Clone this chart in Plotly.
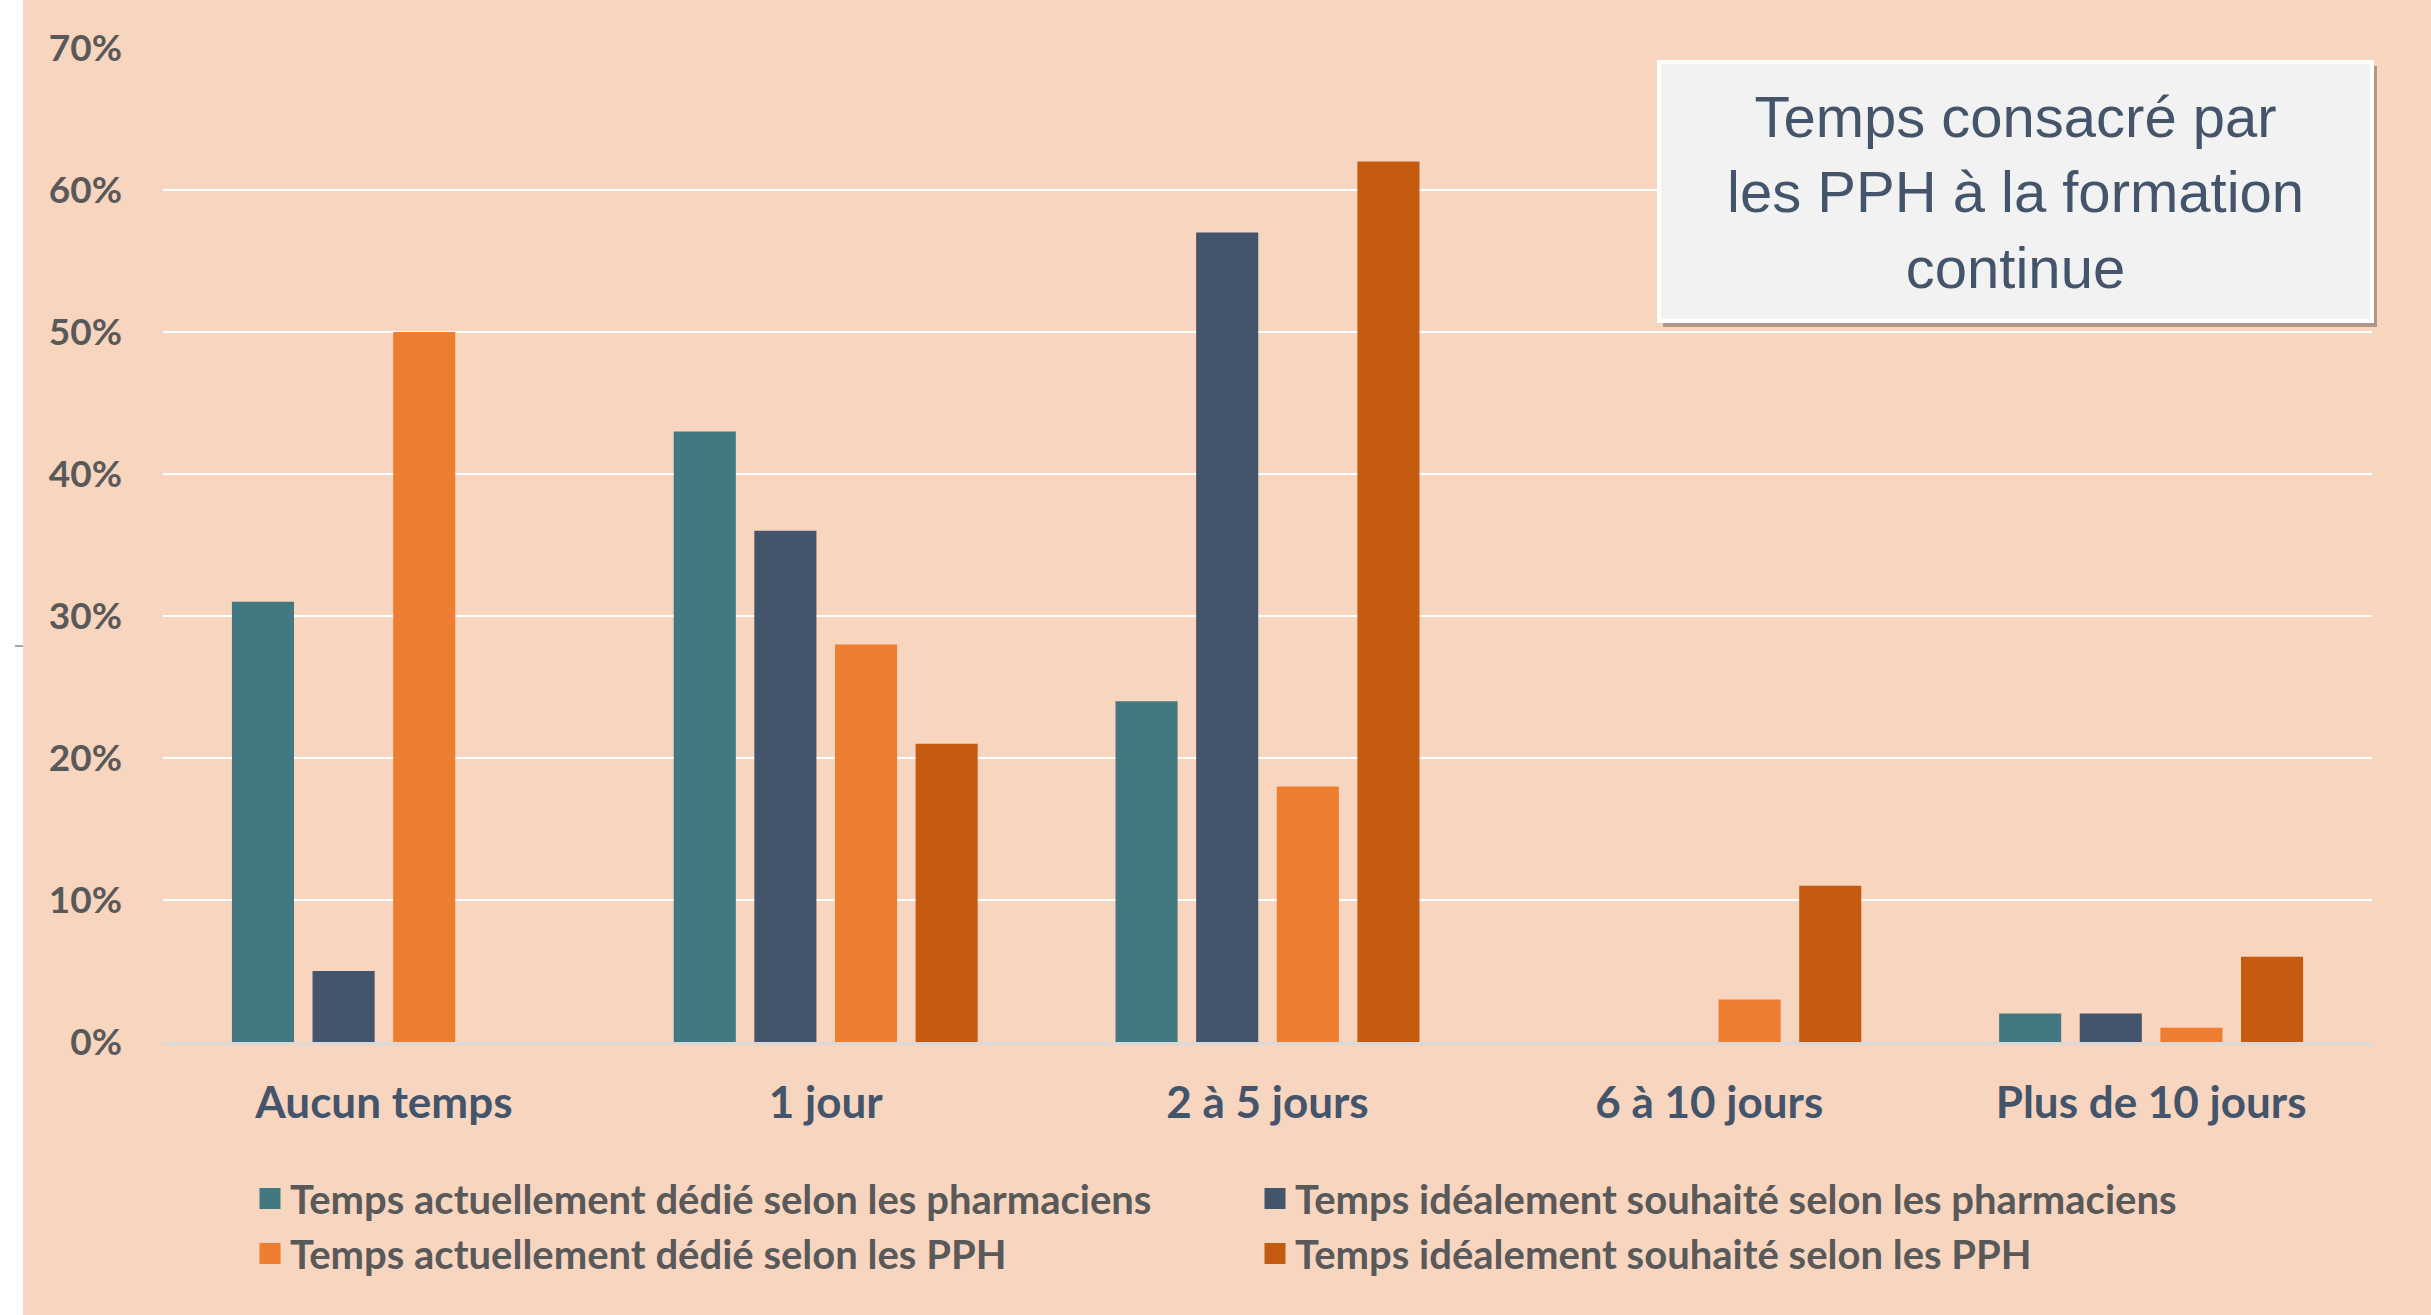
import plotly.graph_objects as go

categories = ["Aucun temps", "1 jour", "2 à 5 jours", "6 à 10 jours", "Plus de 10 jours"]
series_names = [
    "Temps actuellement dédié selon les pharmaciens",
    "Temps idéalement souhaité selon les pharmaciens",
    "Temps actuellement dédié selon les PPH",
    "Temps idéalement souhaité selon les PPH",
]
actuel_pharmaciens = [31, 43, 24, None, 2]
ideal_pharmaciens = [5, 36, 57, None, 2]
actuel_pph = [50, 28, 18, 3, 1]
ideal_pph = [None, 21, 62, 11, 6]
y_ticks = [0, 10, 20, 30, 40, 50, 60, 70]
y_tick_labels = ["0%", "10%", "20%", "30%", "40%", "50%", "60%", "70%"]
title_text = "Temps consacré par<br>les PPH à la formation<br>continue"

colors = ["#427880", "#44546A", "#ED7D31", "#C55A11"]
BG = "#F8D5BF"
W, H = 2431, 1315
ML, MR, MT, MB = 163, 59, 48, 273
PW, PH = W - ML - MR, H - MT - MB

def px_x(p):
    return (p - ML) / PW

def px_y(p):
    return (H - MB - p) / PH

fig = go.Figure()
all_series = [actuel_pharmaciens, ideal_pharmaciens, actuel_pph, ideal_pph]
for name, vals, col in zip(series_names, all_series, colors):
    fig.add_trace(go.Bar(
        x=categories, y=vals, name=name, marker_color=col,
        marker_line_width=0, showlegend=False, hoverinfo="x+y+name",
    ))
# legend entries (larger swatches than the default bar legend symbol)
for name, col in zip(series_names, colors):
    fig.add_trace(go.Scatter(
        x=[None], y=[None], mode="markers", name=name,
        marker=dict(symbol="square", size=16, color=col,
                    line=dict(color=col, width=5)),
        showlegend=True,
    ))

font_main = "Lato, 'Open Sans', sans-serif"

fig.update_layout(
    width=W, height=H,
    margin=dict(l=ML, r=MR, t=MT, b=MB, autoexpand=False),
    paper_bgcolor=BG, plot_bgcolor=BG,
    barmode="group", bargap=0.27, bargroupgap=0.23,
    font=dict(family=font_main),
    xaxis=dict(
        showgrid=False, showline=True, linecolor="#D9D9D9", linewidth=3,
        ticks="", tickfont=dict(size=44, color="#44546A", family=font_main, weight="bold"),
        ticklabelstandoff=20, fixedrange=True,
    ),
    yaxis=dict(
        range=[0, 70], tickvals=y_ticks, ticktext=y_tick_labels,
        showgrid=True, gridcolor="#FFFFFF", gridwidth=2, zeroline=False,
        showline=False, ticks="",
        tickfont=dict(size=37, color="#595959", family=font_main, weight="bold"),
        ticklabelstandoff=40, fixedrange=True,
    ),
    legend=dict(
        orientation="h", x=px_x(250), y=px_y(1166), xanchor="left", yanchor="top",
        entrywidth=960, entrywidthmode="pixels",
        font=dict(size=40, color="#595959", family=font_main, weight="bold"),
        itemwidth=30, tracegroupgap=0, bgcolor="rgba(0,0,0,0)",
    ),
    showlegend=True,
)

# white strip on the left edge and small tick
fig.add_shape(type="rect", xref="paper", yref="paper",
              x0=px_x(0), x1=px_x(23), y0=px_y(H), y1=px_y(0),
              fillcolor="#FFFFFF", line_width=0, layer="below")
fig.add_shape(type="line", xref="paper", yref="paper",
              x0=px_x(15), x1=px_x(23), y0=px_y(646), y1=px_y(646),
              line=dict(color="#A6A6A6", width=2))

# title box with shadow
bx0, bx1, by0, by1 = 1659, 2372, 62, 321
fig.add_shape(type="rect", xref="paper", yref="paper",
              x0=px_x(bx0 + 4), x1=px_x(bx1 + 5), y0=px_y(by1 + 6), y1=px_y(by0 + 4),
              fillcolor="rgba(120,100,90,0.55)", line_width=0)
fig.add_shape(type="rect", xref="paper", yref="paper",
              x0=px_x(bx0), x1=px_x(bx1), y0=px_y(by1), y1=px_y(by0),
              fillcolor="#F2F2F2", line=dict(color="#FFFFFF", width=4))
fig.add_annotation(
    xref="paper", yref="paper", x=px_x((bx0 + bx1) / 2), y=px_y((by0 + by1) / 2),
    text=title_text, showarrow=False, xanchor="center", yanchor="middle",
    font=dict(family="'Liberation Sans', Arial, sans-serif", size=58, color="#44546A"),
    align="center",
)

fig.write_html("out.html", config={"displayModeBar": False},
               post_script="document.body.style.margin='0';")
